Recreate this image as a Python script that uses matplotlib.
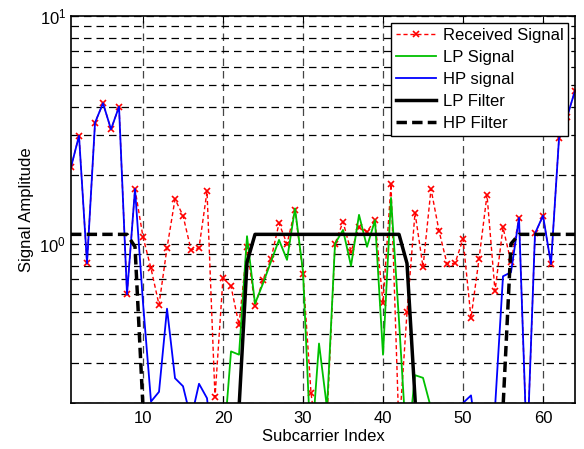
import numpy as np
import matplotlib
matplotlib.use('Agg')
import matplotlib.pyplot as plt

plt.rcParams['font.family'] = ['Liberation Sans', 'DejaVu Sans']

subcarrier = np.arange(1, 65)

# values (anything below 0.2 is off the bottom of the axes)
received = [2.17, 2.98, 0.82, 3.40, 4.14, 3.18, 4.00, 0.60, 1.74, 1.07,
            0.78, 0.54, 0.96, 1.57, 1.33, 0.94, 0.96, 1.70, 0.212, 0.71,
            0.65, 0.44, 0.97, 0.535, 0.695, 0.857, 1.23, 1.00, 1.41, 0.74,
            0.221, 0.12, 0.17, 1.00, 1.25, 0.925, 1.18, 1.13, 1.27, 0.55,
            1.83, 0.15, 0.50, 1.37, 0.79, 1.74, 1.14, 0.817, 0.82, 1.05,
            0.472, 0.857, 1.64, 0.62, 1.18, 0.83, 1.30, 0.12, 1.11, 1.32,
            0.815, 2.90, 3.60, 4.70]

lp_signal = [0.05, 0.05, 0.05, 0.05, 0.05, 0.05, 0.05, 0.05, 0.05, 0.05,
             0.05, 0.05, 0.05, 0.05, 0.05, 0.05, 0.05, 0.05, 0.05, 0.12,
             0.337, 0.326, 1.08, 0.546, 0.67, 0.836, 1.04, 0.85, 1.43, 0.756,
             0.12, 0.365, 0.19, 1.00, 1.15, 0.80, 1.34, 0.97, 1.27, 0.326,
             1.59, 0.46, 0.12, 0.265, 0.258, 0.19, 0.05, 0.05, 0.05, 0.05,
             0.05, 0.05, 0.05, 0.05, 0.05, 0.05, 0.05, 0.05, 0.05, 0.05,
             0.05, 0.05, 0.05, 0.05]

hp_signal = [2.17, 2.98, 0.82, 3.40, 4.14, 3.18, 4.00, 0.60, 1.74, 0.55,
             0.203, 0.224, 0.519, 0.257, 0.237, 0.17, 0.243, 0.21, 0.10, 0.05,
             0.05, 0.05, 0.05, 0.05, 0.05, 0.05, 0.05, 0.05, 0.05, 0.05,
             0.05, 0.05, 0.05, 0.05, 0.05, 0.05, 0.05, 0.05, 0.05, 0.05,
             0.05, 0.05, 0.05, 0.05, 0.05, 0.05, 0.05, 0.05, 0.12, 0.20,
             0.216, 0.12, 0.10, 0.19, 0.72, 0.75, 1.30, 0.12, 1.11, 1.33,
             0.815, 2.90, 3.60, 4.70]

lp_filter = [0.05] * 21 + [0.19, 0.83] + [1.1] * 19 + [0.82, 0.21] + [0.05] * 20
hp_filter = [1.1] * 8 + [0.97, 0.19] + [0.05] * 44 + [0.19, 1.0] + [1.1] * 8

fig = plt.figure(figsize=(5.84, 4.49), dpi=100)
ax = fig.add_axes([0.1216, 0.1024, 0.863, 0.862])

ax.plot(subcarrier, received, color='red', linestyle=(0, (3, 2)), linewidth=1,
        marker='x', markersize=5, markeredgewidth=1.2, label='Received Signal')
ax.plot(subcarrier, lp_signal, color='#00c000', linewidth=1.3, label='LP Signal')
ax.plot(subcarrier, hp_signal, color='#0000ff', linewidth=1.3, label='HP signal')
ax.plot(subcarrier, lp_filter, color='black', linewidth=2.5, label='LP Filter')
ax.plot(subcarrier, hp_filter, color='black', linewidth=2.5,
        linestyle=(0, (3, 1.5)), label='HP Filter')

ax.set_yscale('log')
ax.set_xlim(1, 64)
ax.set_ylim(0.2, 10)
ax.set_xticks([10, 20, 30, 40, 50, 60])

ax.grid(True, which='major', axis='x', color='#444444', linestyle=(0, (6, 4)), linewidth=0.9)
ax.grid(True, which='both', axis='y', color='black', linestyle=(0, (6, 4)), linewidth=0.9)
ax.tick_params(which='both', direction='in', top=True, right=True, labelsize=12)
ax.tick_params(which='major', length=5)
ax.tick_params(which='minor', length=3)
ax.tick_params(axis='x', pad=6)
for s in ax.spines.values():
    s.set_linewidth(1.2)

ax.set_xlabel('Subcarrier Index', fontsize=12, labelpad=2)
ax.set_ylabel('Signal Amplitude', fontsize=12, labelpad=4)

leg = ax.legend(loc='upper right', fontsize=12, fancybox=False, framealpha=1,
                edgecolor='black', borderaxespad=0.4, handlelength=2.4,
                handletextpad=0.4, labelspacing=0.42, borderpad=0.3)
leg.get_frame().set_linewidth(1)

fig.savefig('out.png', dpi=100)
